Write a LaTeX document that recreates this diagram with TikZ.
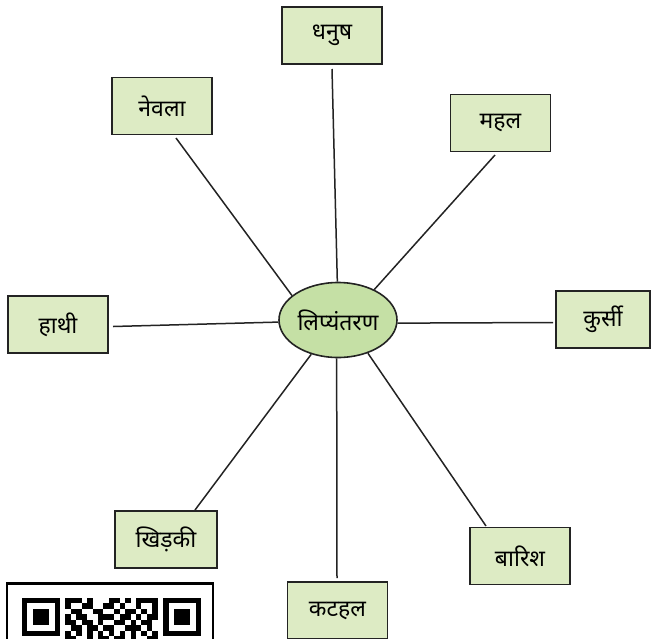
\documentclass[tikz,border=0pt]{standalone}
\usepackage{fontspec}
\usetikzlibrary{shapes.geometric}
\setmainfont[Script=Devanagari]{Noto Sans}
\definecolor{boxfill}{RGB}{221,235,196}
\definecolor{ellfill}{RGB}{197,224,165}
\definecolor{edge}{RGB}{35,35,35}
\begin{document}
\begin{tikzpicture}[x=1pt,y=-1pt,
  wordbox/.style={draw=edge,line width=1.6pt,fill=boxfill,minimum width=100pt,minimum height=57pt,inner sep=0pt,font=\fontsize{23}{27}\selectfont},
  hub/.style={draw=edge,line width=1.6pt,fill=ellfill,ellipse,minimum width=118pt,minimum height=75pt,inner sep=0pt,font=\fontsize{23}{27}\selectfont},
  spoke/.style={draw=edge,line width=1.5pt},
  qrmod/.style={fill=black}]
\useasboundingbox (0,0) rectangle (651,638);
% hub
\node[hub] (ell) at (338,320) {लिप्यंतरण};
% boxes
\node[wordbox] (dhanush) at (332,35.5) {धनुष};
\node[wordbox] (nevla) at (162,106) {नेवला};
\node[wordbox] (mahal) at (500.5,123) {महल};
\node[wordbox] (hathi) at (58,324.5) {हाथी};
\node[wordbox,minimum width=94pt] (kursi) at (603,319.5) {कुर्सी};
\node[wordbox,minimum width=102pt] (khidki) at (166,539.5) {खिड़की};
\node[wordbox] (katahal) at (337.5,610.5) {कटहल};
\node[wordbox] (barish) at (520,556) {बारिश};
% spoke ends near boxes
\coordinate (e-dhanush) at (332,69);
\coordinate (e-nevla) at (176,138);
\coordinate (e-mahal) at (495,155);
\coordinate (e-hathi) at (113,326.5);
\coordinate (e-kursi) at (553,322.5);
\coordinate (e-khidki) at (195,510);
\coordinate (e-katahal) at (337,578);
\coordinate (e-barish) at (486,526);
\foreach \n/\a in {dhanush/91,nevla/152,mahal/40,hathi/182,kursi/357,khidki/232,katahal/268,barish/312}
  \draw[spoke] (ell.\a) -- (e-\n);
% QR code (partly visible)
\draw[line width=2.5pt] (7,583.5) rectangle (213,660);
\def\m{5.43}
\def\qx{22}
\def\qy{598}
\foreach \c in {0,26}{
  \fill[black] (\qx+\m*\c,\qy) rectangle ++(7*\m,7*\m);
  \fill[white] (\qx+\m*\c+\m,\qy+\m) rectangle ++(5*\m,5*\m);
  \fill[black] (\qx+\m*\c+2*\m,\qy+2*\m) rectangle ++(3*\m,3*\m);
}
\foreach \c/\r in {8/0,9/0,10/0,12/0,16/0,17/0,19/0,21/0,22/0,23/0,24/0,
  8/1,11/1,12/1,15/1,16/1,18/1,21/1,24/1,
  9/2,10/2,13/2,14/2,17/2,19/2,20/2,22/2,24/2,
  8/3,10/3,11/3,14/3,15/3,16/3,18/3,19/3,21/3,23/3,24/3,
  8/4,9/4,11/4,12/4,14/4,17/4,18/4,20/4,22/4,23/4,
  9/5,10/5,12/5,13/5,15/5,16/5,19/5,20/5,21/5,23/5,
  8/6,10/6,12/6,14/6,16/6,18/6,20/6,22/6,24/6,
  8/7,9/7,12/7,14/7,15/7,17/7,18/7,20/7,23/7,24/7}
  \fill[qrmod] (\qx+\m*\c,\qy+\m*\r) rectangle ++(\m,\m);
\end{tikzpicture}
\end{document}
